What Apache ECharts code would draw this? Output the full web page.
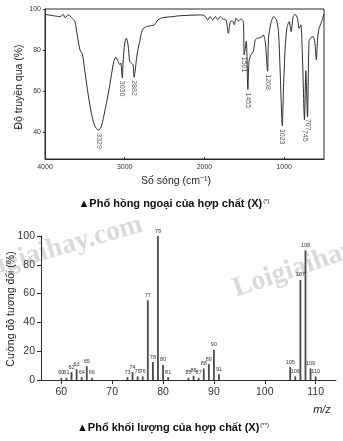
<!DOCTYPE html>
<html>
<head>
<meta charset="utf-8">
<script src="https://cdn.jsdelivr.net/npm/echarts@6/dist/echarts.min.js"></script>
<style>
  html, body { margin: 0; padding: 0; background: #fff; }
  #chart { width: 343px; height: 441px; }
</style>
</head>
<body>
<div id="chart"></div>
<script>
// IR spectrum: wavenumber (cm-1) and transmittance (%)
const irWavenumber = [
  4000, 3940, 3875, 3812, 3771, 3750, 3708, 3666, 3625, 3596, 3562, 3529, 3500, 3458, 3416, 3375,
  3329, 3291, 3250, 3208, 3166, 3137, 3112, 3083, 3062, 3050, 3030, 3021, 3000, 2979, 2958, 2937,
  2916, 2896, 2882, 2846, 2812, 2779, 2729, 2666, 2625, 2583, 2521, 2396, 2312, 2062, 2000, 1958,
  1929, 1896, 1862, 1833, 1804, 1771, 1729, 1700, 1675, 1646, 1625, 1604, 1571, 1541, 1512, 1501,
  1475, 1455, 1441, 1416, 1387, 1362, 1333, 1291, 1262, 1237, 1208, 1196, 1166, 1133, 1096, 1071,
  1050, 1023, 1008, 987, 966, 937, 912, 887, 862, 833, 812, 791, 771, 745, 728, 707,
  688, 666, 637, 616, 596, 579, 562, 529, 500
];
const irTransmittance = [
  97.4, 97.0, 96.6, 96.3, 97.4, 95.8, 97.1, 95.8, 93.9, 87.4, 80.2, 77.7, 69.7, 58.4, 48.7, 43.1,
  41.0, 43.1, 50.3, 58.4, 68.1, 74.5, 76.5, 74.5, 72.9, 73.7, 66.5, 73.7, 83.4, 85.8, 82.6, 74.5,
  73.7, 72.9, 66.8, 77.7, 84.2, 89.8, 91.4, 91.9, 92.3, 94.7, 95.8, 96.3, 96.7, 97.1, 96.8, 94.7,
  96.3, 94.7, 96.3, 94.7, 96.3, 95.2, 94.7, 88.2, 93.9, 94.2, 92.3, 95.5, 94.2, 95.2, 93.9, 77.7,
  84.2, 60.8, 74.5, 77.7, 79.3, 85.0, 85.8, 86.1, 87.4, 84.2, 69.7, 85.8, 93.1, 96.3, 94.7, 89.0,
  69.7, 43.1, 61.6, 81.0, 90.6, 93.9, 89.0, 96.3, 97.4, 95.5, 90.6, 92.3, 77.7, 46.0, 70.0, 47.5,
  84.2, 86.0, 86.6, 84.0, 75.3, 86.0, 90.6, 93.9, 97.7
];
const irPeakWavenumber = [3329, 3030, 2882, 1501, 1455, 1208, 1023, 745, 707];
const irPeakTransmittance = [41.0, 66.5, 66.8, 77.7, 60.8, 69.7, 43.1, 46.0, 47.5];
const irXTicks = [4000, 3000, 2000, 1000];
const irYTicks = [40, 60, 80, 100];

// Mass spectrum: m/z and relative intensity (%)
const msMz = [60, 61, 62, 63, 64, 65, 66, 73, 74, 75, 76, 77, 78, 79, 80, 81,
  85, 86, 87, 88, 89, 90, 91, 105, 106, 107, 108, 109, 110];
const msIntensity = [1.5, 1.5, 5.5, 7.5, 2, 9.5, 1.5, 2, 5.5, 2.5, 2.5, 55.5, 12.5, 100, 10.5, 2,
  1.5, 3, 1.5, 8, 11, 21, 4, 9, 2.5, 69.5, 90, 8, 2.5];
const msXTicks = [60, 70, 80, 90, 100, 110];
const msYTicks = [0, 20, 40, 60, 80, 100];

const SANS = "'Liberation Sans', Arial, sans-serif";
const NARROW = "'Liberation Sans Narrow', 'Arial Narrow', 'Liberation Sans', sans-serif";
const INK = '#2b2b2b';
const plain = v => String(v);

const chart = echarts.init(document.getElementById('chart'), null, { renderer: 'canvas' });

// extra gap under a few crowded peak labels
const peakDistance = { 745: 10, 707: 2, 1501: 2 };

const watermarkFont = "bold 28px 'Liberation Serif', 'DejaVu Serif', serif";
const watermarkFill = 'rgba(165,165,165,0.42)';

chart.setOption({
  animation: false,
  backgroundColor: '#fff',
  grid: [
    { left: 45, right: 19, top: 9, bottom: 282, show: true, borderColor: INK, borderWidth: 1,
      backgroundColor: 'transparent', outerBoundsMode: 'none' },
    { left: 41, right: 7, top: 236, bottom: 61, outerBoundsMode: 'none' }
  ],
  xAxis: [
    {
      gridIndex: 0, type: 'value', min: 500, max: 4000, inverse: true,
      axisLine: { show: true, lineStyle: { color: INK, width: 1 } },
      axisTick: { show: true, inside: true, length: 2, customValues: irXTicks, lineStyle: { color: INK } },
      axisLabel: { customValues: irXTicks, formatter: plain, fontSize: 7, fontFamily: NARROW, color: '#333', margin: 5 },
      splitLine: { show: false }
    },
    {
      gridIndex: 1, type: 'value', min: 56, max: 114,
      axisLine: { show: true, lineStyle: { color: INK, width: 1 } },
      axisTick: { show: true, length: 4, customValues: msXTicks, lineStyle: { color: INK } },
      axisLabel: { customValues: msXTicks, formatter: plain, fontSize: 10.5, fontFamily: SANS, color: '#333', margin: 7 },
      splitLine: { show: false }
    }
  ],
  yAxis: [
    {
      gridIndex: 0, type: 'value', min: 27, max: 100,
      axisLine: { show: true, lineStyle: { color: INK, width: 1 } },
      axisTick: { show: true, length: 2, customValues: irYTicks, lineStyle: { color: INK } },
      axisLabel: { customValues: irYTicks, formatter: plain, fontSize: 7, fontFamily: NARROW, color: '#333', margin: 4 },
      splitLine: { show: false }
    },
    {
      gridIndex: 1, type: 'value', min: 0, max: 100, interval: 20,
      axisLine: { show: true, lineStyle: { color: INK, width: 1 } },
      axisTick: { show: true, length: 4, lineStyle: { color: INK } },
      axisLabel: { fontSize: 10.5, fontFamily: SANS, color: '#333', margin: 6 },
      splitLine: { show: false }
    }
  ],
  series: [
    {
      name: 'IR', type: 'line', xAxisIndex: 0, yAxisIndex: 0,
      data: irWavenumber.map((w, i) => [w, irTransmittance[i]]),
      showSymbol: false, smooth: 0.25,
      lineStyle: { color: INK, width: 1 }
    },
    {
      name: 'IR peaks', type: 'scatter', xAxisIndex: 0, yAxisIndex: 0,
      symbolSize: 0, silent: true,
      data: irPeakWavenumber.map((w, i) => ({
        value: [w, irPeakTransmittance[i]],
        label: { distance: peakDistance[w] !== undefined ? peakDistance[w] : 3 }
      })),
      label: {
        show: true, position: 'bottom', rotate: -90, align: 'left', verticalAlign: 'middle',
        fontSize: 7, fontFamily: NARROW, color: '#333',
        formatter: p => String(p.value[0])
      }
    },
    {
      name: 'MS', type: 'bar', xAxisIndex: 1, yAxisIndex: 1,
      data: msMz.map((m, i) => [m, msIntensity[i]]),
      barWidth: 1.8,
      itemStyle: { color: '#4a4a4a' },
      label: {
        show: true, position: 'top', distance: 2, fontSize: 5.5, fontFamily: SANS, color: '#333',
        formatter: p => String(p.value[0])
      }
    }
  ],
  graphic: [
    // site watermark, drawn behind the mass spectrum
    { type: 'text', x: 142, y: 224, rotation: 0.28, silent: true, z: -1,
      style: { text: 'Loigiaihay.com', fill: watermarkFill, font: watermarkFont,
        textAlign: 'right', textVerticalAlign: 'middle' } },
    { type: 'text', x: 234, y: 290, rotation: 0.33, silent: true, z: -1,
      style: { text: 'Loigiaihay.com', fill: watermarkFill, font: watermarkFont,
        textAlign: 'left', textVerticalAlign: 'middle' } },
    // IR axis titles
    { type: 'text', x: 19, y: 87, rotation: Math.PI / 2, silent: true,
      style: { text: 'Độ truyền qua (%)', fill: '#222', font: "10.5px " + SANS, textAlign: 'center', textVerticalAlign: 'middle' } },
    { type: 'text', x: 176, y: 181, silent: true,
      style: { text: 'Số sóng (cm⁻¹)', fill: '#222', font: "10.5px " + SANS, textAlign: 'center', textVerticalAlign: 'middle' } },
    // MS axis titles
    { type: 'text', x: 11, y: 309, rotation: Math.PI / 2, silent: true,
      style: { text: 'Cường độ tương đối (%)', fill: '#222', font: "10.5px " + SANS, textAlign: 'center', textVerticalAlign: 'middle' } },
    { type: 'text', x: 322, y: 410, silent: true,
      style: { text: 'm/z', fill: '#222', font: "italic 11px " + SANS, textAlign: 'center', textVerticalAlign: 'middle' } },
    // captions
    { type: 'text', x: 174, y: 204, silent: true,
      style: {
        text: '{b|▲Phổ hồng ngoại của hợp chất (X)}{s|(*)}',
        textAlign: 'center', textVerticalAlign: 'middle',
        rich: {
          b: { fontSize: 11, fontWeight: 'bold', fontFamily: SANS, fill: '#111', color: '#111' },
          s: { fontSize: 6, fontFamily: SANS, fill: '#111', color: '#111', verticalAlign: 'top', padding: [0, 0, 6, 1] }
        }
      } },
    { type: 'text', x: 173, y: 428, silent: true,
      style: {
        text: '{b|▲Phổ khối lượng của hợp chất (X)}{s|(**)}',
        textAlign: 'center', textVerticalAlign: 'middle',
        rich: {
          b: { fontSize: 11, fontWeight: 'bold', fontFamily: SANS, fill: '#111', color: '#111' },
          s: { fontSize: 6, fontFamily: SANS, fill: '#111', color: '#111', verticalAlign: 'top', padding: [0, 0, 6, 1] }
        }
      } }
  ]
});
</script>
</body>
</html>
